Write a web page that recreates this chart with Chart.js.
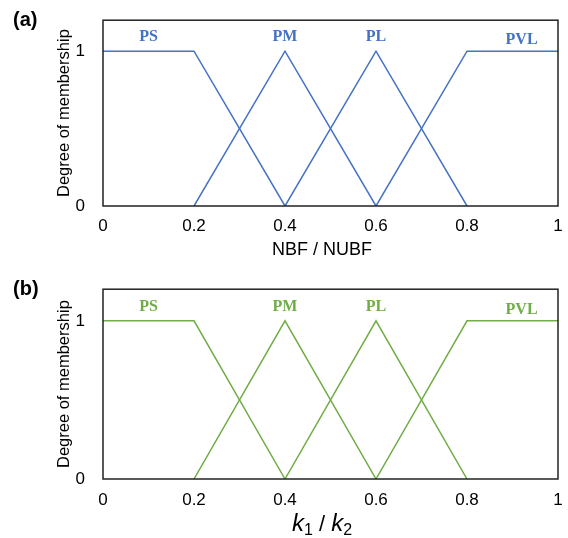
<!DOCTYPE html>
<html>
<head>
<meta charset="utf-8">
<script src="https://cdn.jsdelivr.net/npm/chart.js@4"></script>
<style>
  html, body { margin: 0; padding: 0; background: #fff; }
  canvas { display: block; }
</style>
</head>
<body>
<canvas id="chartA" width="568" height="269"></canvas>
<canvas id="chartB" width="568" height="269"></canvas>
<script>
// membership functions (same for both panels)
const xTicks = [0, 0.2, 0.4, 0.6, 0.8, 1];
const xTickLabels = ['0', '0.2', '0.4', '0.6', '0.8', '1'];
const yTicks = [0, 1];
const setNames = ['PS', 'PM', 'PL', 'PVL'];
const psX = [0, 0.2, 0.4];   const psY = [1, 1, 0];
const pmX = [0.2, 0.4, 0.6]; const pmY = [0, 1, 0];
const plX = [0.4, 0.6, 0.8]; const plY = [0, 1, 0];
const pvlX = [0.6, 0.8, 1];  const pvlY = [0, 1, 1];
// where the set names sit (data units)
const labelX = [0.1, 0.4, 0.6, 0.92];
const labelY = [1.09, 1.09, 1.09, 1.07];

Chart.defaults.font.family = '"Liberation Sans", Arial, sans-serif';
Chart.defaults.color = '#000';

const toPts = (xs, ys) => xs.map((x, i) => ({ x: x, y: ys[i] }));

const framePlugin = {
  id: 'frame',
  afterDraw(chart, args, opts) {
    const { ctx, chartArea: a, scales } = chart;
    ctx.save();
    ctx.strokeStyle = '#222';
    ctx.lineWidth = 1.5;
    ctx.strokeRect(a.left, a.top, a.right - a.left, a.bottom - a.top);

    ctx.fillStyle = opts.labelColor;
    ctx.font = 'bold 16px "Liberation Serif", "Times New Roman", serif';
    ctx.textAlign = 'center';
    ctx.textBaseline = 'middle';
    setNames.forEach((n, i) => {
      ctx.fillText(n, scales.x.getPixelForValue(labelX[i]), scales.y.getPixelForValue(labelY[i]));
    });

    ctx.fillStyle = '#000';
    ctx.font = 'bold 20px "Liberation Sans", Arial, sans-serif';
    ctx.textAlign = 'left';
    ctx.fillText(opts.panel, 13, opts.panelY);

    ctx.textBaseline = 'alphabetic';
    opts.xTitle(ctx);
    ctx.restore();
  }
};

// piecewise title so k1 / k2 can have subscripts
function drawRuns(ctx, runs, cx, baseY) {
  let w = 0;
  runs.forEach(r => { ctx.font = r.font; r.w = ctx.measureText(r.text).width; w += r.w; });
  let x = cx - w / 2;
  ctx.textAlign = 'left';
  runs.forEach(r => {
    ctx.font = r.font;
    ctx.fillText(r.text, x, baseY + (r.dy || 0));
    x += r.w;
  });
}

function makeChart(id, color, panel, panelY, padTop, xAxisH, tickPad, xTitle) {
  return new Chart(document.getElementById(id), {
    type: 'line',
    data: {
      datasets: [
        { label: 'PS', data: toPts(psX, psY) },
        { label: 'PM', data: toPts(pmX, pmY) },
        { label: 'PL', data: toPts(plX, plY) },
        { label: 'PVL', data: toPts(pvlX, pvlY) },
      ].map(d => Object.assign(d, {
        borderColor: color, borderWidth: 1.5, pointRadius: 0, fill: false, tension: 0
      })),
    },
    options: {
      responsive: false,
      animation: false,
      layout: { padding: { left: 51, right: 10, top: padTop, bottom: 0 } },
      plugins: {
        legend: { display: false },
        tooltip: { enabled: false },
        frame: { labelColor: color, panel: panel, panelY: panelY, xTitle: xTitle },
      },
      scales: {
        x: {
          type: 'linear', min: 0, max: 1,
          afterBuildTicks: s => { s.ticks = xTicks.map(v => ({ value: v })); },
          grid: { display: false },
          border: { display: false },
          ticks: {
            font: { size: 17 }, padding: tickPad, maxRotation: 0,
            callback: (v, i) => xTickLabels[i],
          },
          afterFit: s => { s.height = xAxisH; },
        },
        y: {
          min: 0, max: 1.2,
          afterBuildTicks: s => { s.ticks = yTicks.map(v => ({ value: v })); },
          grid: { display: false },
          border: { display: false },
          ticks: { font: { size: 17 }, padding: 10 },
          title: { display: true, text: 'Degree of membership', font: { size: 16.5 }, padding: { top: 4, bottom: 0 } },
          afterFit: s => { s.width = 52; },
        },
      },
    },
    plugins: [framePlugin],
  });
}

makeChart('chartA', '#4472C4', '(a)', 20, 14, 63, 2, ctx => {
  drawRuns(ctx, [{ text: 'NBF / NUBF', font: '18px "Liberation Sans", Arial, sans-serif' }], 322, 255);
});

makeChart('chartB', '#70AD47', '(b)', 20, 19, 59, 3, ctx => {
  const it = 'italic 24px "Liberation Sans", Arial, sans-serif';
  const sub = '16px "Liberation Sans", Arial, sans-serif';
  const rg = '22px "Liberation Sans", Arial, sans-serif';
  drawRuns(ctx, [
    { text: 'k', font: it },
    { text: '1', font: sub, dy: 4 },
    { text: ' / ', font: rg },
    { text: 'k', font: it },
    { text: '2', font: sub, dy: 4 },
  ], 322, 262);
});
</script>
</body>
</html>
